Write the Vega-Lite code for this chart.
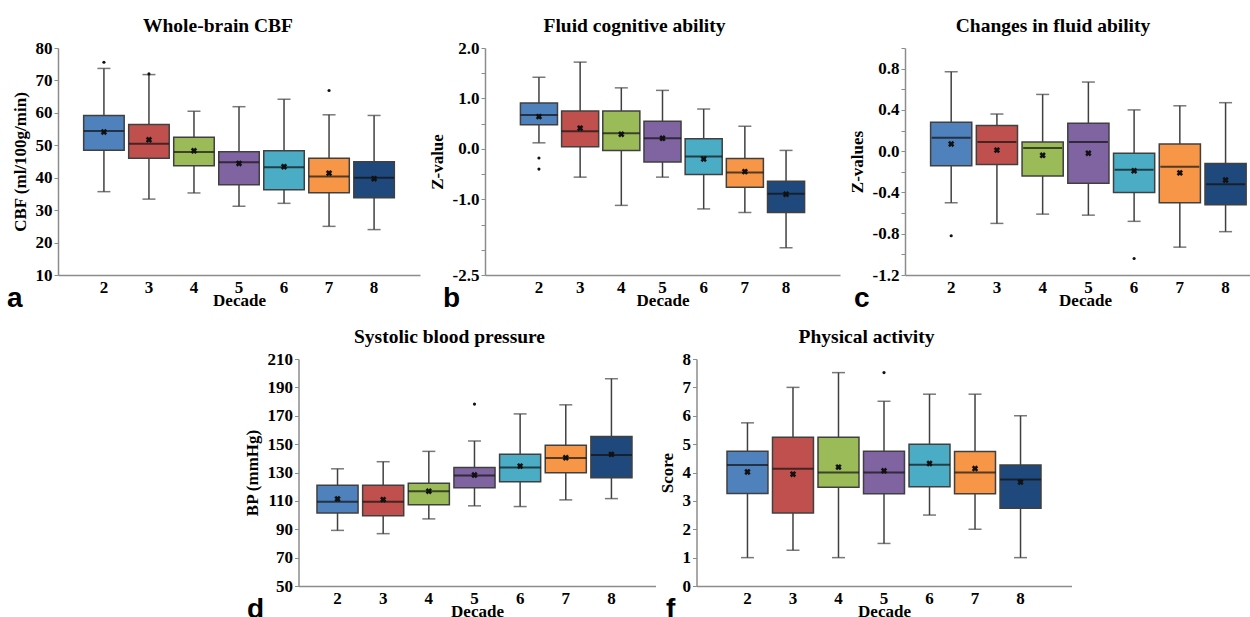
{
  "$schema": "https://vega.github.io/schema/vega-lite/v6.json",
  "padding": {"left": 7, "top": 15, "right": 0, "bottom": 0},
  "background": "white",
  "datasets": {
    "a": [
      {"decade": 2, "min": 35.7, "q1": 48.5, "median": 54.4, "q3": 59.2, "max": 73.7, "mean": 54.1},
      {"decade": 3, "min": 33.4, "q1": 46.0, "median": 50.5, "q3": 56.4, "max": 71.8, "mean": 51.7},
      {"decade": 4, "min": 35.3, "q1": 43.7, "median": 47.9, "q3": 52.5, "max": 60.5, "mean": 48.3},
      {"decade": 5, "min": 31.2, "q1": 37.8, "median": 44.8, "q3": 48.0, "max": 61.9, "mean": 44.4},
      {"decade": 6, "min": 32.1, "q1": 36.3, "median": 43.2, "q3": 48.3, "max": 64.2, "mean": 43.4},
      {"decade": 7, "min": 25.0, "q1": 35.4, "median": 40.4, "q3": 46.0, "max": 59.4, "mean": 41.4},
      {"decade": 8, "min": 24.0, "q1": 33.8, "median": 40.0, "q3": 44.9, "max": 59.2, "mean": 39.7}
    ],
    "a_out": [{"decade": 2, "value": 75.6}, {"decade": 3, "value": 72.0}, {"decade": 7, "value": 66.9}],
    "b": [
      {"decade": 2, "min": 0.12, "q1": 0.48, "median": 0.67, "q3": 0.91, "max": 1.42, "mean": 0.64},
      {"decade": 3, "min": -0.56, "q1": 0.04, "median": 0.35, "q3": 0.75, "max": 1.72, "mean": 0.41},
      {"decade": 4, "min": -1.12, "q1": -0.03, "median": 0.31, "q3": 0.75, "max": 1.21, "mean": 0.29},
      {"decade": 5, "min": -0.56, "q1": -0.26, "median": 0.21, "q3": 0.55, "max": 1.16, "mean": 0.21},
      {"decade": 6, "min": -1.19, "q1": -0.51, "median": -0.15, "q3": 0.20, "max": 0.79, "mean": -0.20},
      {"decade": 7, "min": -1.26, "q1": -0.76, "median": -0.47, "q3": -0.19, "max": 0.45, "mean": -0.45},
      {"decade": 8, "min": -1.96, "q1": -1.26, "median": -0.89, "q3": -0.64, "max": -0.03, "mean": -0.90}
    ],
    "b_out": [{"decade": 2, "value": -0.18}, {"decade": 2, "value": -0.40}],
    "c": [
      {"decade": 2, "min": -0.50, "q1": -0.14, "median": 0.13, "q3": 0.28, "max": 0.77, "mean": 0.07},
      {"decade": 3, "min": -0.70, "q1": -0.13, "median": 0.09, "q3": 0.25, "max": 0.36, "mean": 0.01},
      {"decade": 4, "min": -0.61, "q1": -0.24, "median": 0.03, "q3": 0.09, "max": 0.55, "mean": -0.04},
      {"decade": 5, "min": -0.62, "q1": -0.31, "median": 0.09, "q3": 0.27, "max": 0.67, "mean": -0.02},
      {"decade": 6, "min": -0.68, "q1": -0.40, "median": -0.18, "q3": -0.02, "max": 0.40, "mean": -0.19},
      {"decade": 7, "min": -0.93, "q1": -0.50, "median": -0.15, "q3": 0.07, "max": 0.44, "mean": -0.21},
      {"decade": 8, "min": -0.78, "q1": -0.52, "median": -0.32, "q3": -0.12, "max": 0.47, "mean": -0.28}
    ],
    "c_out": [{"decade": 2, "value": -0.82}, {"decade": 6, "value": -1.04}],
    "d": [
      {"decade": 2, "min": 89.2, "q1": 101.5, "median": 109.3, "q3": 121.1, "max": 132.6, "mean": 111.4},
      {"decade": 3, "min": 86.9, "q1": 99.6, "median": 109.3, "q3": 121.1, "max": 137.6, "mean": 110.9},
      {"decade": 4, "min": 97.3, "q1": 107.2, "median": 116.8, "q3": 122.5, "max": 144.9, "mean": 116.8},
      {"decade": 5, "min": 106.5, "q1": 119.2, "median": 127.9, "q3": 133.6, "max": 152.2, "mean": 128.2},
      {"decade": 6, "min": 106.0, "q1": 123.4, "median": 133.6, "q3": 142.8, "max": 171.3, "mean": 134.5},
      {"decade": 7, "min": 110.7, "q1": 129.8, "median": 140.2, "q3": 149.2, "max": 177.7, "mean": 140.4},
      {"decade": 8, "min": 111.6, "q1": 126.3, "median": 142.3, "q3": 155.3, "max": 196.1, "mean": 142.8}
    ],
    "d_out": [{"decade": 5, "value": 178.2}],
    "f": [
      {"decade": 2, "min": 1.0, "q1": 3.26, "median": 4.26, "q3": 4.75, "max": 5.75, "mean": 4.02},
      {"decade": 3, "min": 1.26, "q1": 2.57, "median": 4.13, "q3": 5.24, "max": 7.0, "mean": 3.94},
      {"decade": 4, "min": 1.0, "q1": 3.48, "median": 4.0, "q3": 5.24, "max": 7.52, "mean": 4.19},
      {"decade": 5, "min": 1.5, "q1": 3.25, "median": 4.0, "q3": 4.75, "max": 6.51, "mean": 4.06},
      {"decade": 6, "min": 2.5, "q1": 3.5, "median": 4.27, "q3": 5.0, "max": 6.76, "mean": 4.32},
      {"decade": 7, "min": 2.0, "q1": 3.25, "median": 4.0, "q3": 4.74, "max": 6.76, "mean": 4.14},
      {"decade": 8, "min": 1.0, "q1": 2.74, "median": 3.75, "q3": 4.26, "max": 6.0, "mean": 3.66}
    ],
    "f_out": [{"decade": 5, "value": 7.52}]
  },
  "vconcat": [
    {
      "hconcat": [
        {
          "title": {"text": "a", "orient": "bottom", "anchor": "start", "font": "Liberation Sans", "fontSize": 28, "fontWeight": "bold", "offset": -23, "dx": -4},
          "hconcat": [
            {
              "title": {"text": "Whole-brain CBF", "offset": 3, "dx": -21},
              "width": 362, "height": 227,
              "encoding": {"x": {"field": "decade", "type": "ordinal", "title": "Decade", "scale": {"paddingInner": 0.1, "paddingOuter": 0.57}}},
              "layer": [
                {"data": {"name": "a"}, "mark": {"type": "rule", "color": "#404040", "strokeWidth": 1.5},
                 "encoding": {"y": {"field": "min", "type": "quantitative", "title": "CBF (ml/100g/min)", "scale": {"domain": [10, 80], "nice": false, "zero": false}, "axis": {"values": [10, 20, 30, 40, 50, 60, 70, 80], "labelOverlap": false}}, "y2": {"field": "max"}}},
                {"data": {"name": "a"}, "mark": {"type": "tick", "color": "#404040", "size": 13, "thickness": 1.5}, "encoding": {"y": {"field": "min", "type": "quantitative", "title": "CBF (ml/100g/min)", "axis": {"values": [10, 20, 30, 40, 50, 60, 70, 80], "labelOverlap": false}}}},
                {"data": {"name": "a"}, "mark": {"type": "tick", "color": "#404040", "size": 13, "thickness": 1.5}, "encoding": {"y": {"field": "max", "type": "quantitative", "title": "CBF (ml/100g/min)", "axis": {"values": [10, 20, 30, 40, 50, 60, 70, 80], "labelOverlap": false}}}},
                {"data": {"name": "a"}, "mark": {"type": "bar", "stroke": "#404040", "strokeWidth": 1.5, "opacity": 1},
                 "encoding": {"y": {"field": "q1", "type": "quantitative", "title": "CBF (ml/100g/min)", "axis": {"values": [10, 20, 30, 40, 50, 60, 70, 80], "labelOverlap": false}}, "y2": {"field": "q3"},
                   "color": {"field": "decade", "type": "nominal", "scale": {"domain": [2, 3, 4, 5, 6, 7, 8], "range": ["#4F81BD", "#C0504D", "#9BBB59", "#8064A2", "#4BACC6", "#F79646", "#1F497D"]}, "legend": null}}},
                {"data": {"name": "a"}, "mark": {"type": "tick", "color": "#111111", "size": 40, "thickness": 2}, "encoding": {"y": {"field": "median", "type": "quantitative", "title": "CBF (ml/100g/min)", "axis": {"values": [10, 20, 30, 40, 50, 60, 70, 80], "labelOverlap": false}}}},
                {"data": {"name": "a"}, "mark": {"type": "point", "shape": "cross", "angle": 45, "size": 42, "filled": true, "color": "#111111", "opacity": 1}, "encoding": {"y": {"field": "mean", "type": "quantitative", "title": "CBF (ml/100g/min)", "axis": {"values": [10, 20, 30, 40, 50, 60, 70, 80], "labelOverlap": false}}}},
                {"data": {"name": "a_out"}, "mark": {"type": "circle", "size": 10, "color": "#111111", "opacity": 1}, "encoding": {"y": {"field": "value", "type": "quantitative", "title": "CBF (ml/100g/min)", "axis": {"values": [10, 20, 30, 40, 50, 60, 70, 80], "labelOverlap": false}}}}
              ]
            }
          ]
        },
        {
          "title": {"text": "b", "orient": "bottom", "anchor": "start", "font": "Liberation Sans", "fontSize": 28, "fontWeight": "bold", "offset": -23, "dx": 15},
          "hconcat": [
            {
              "title": {"text": "Fluid cognitive ability", "offset": 3, "dx": -28},
              "width": 355, "height": 227,
              "encoding": {"x": {"field": "decade", "type": "ordinal", "title": "Decade", "scale": {"paddingInner": 0.1, "paddingOuter": 0.86}}},
              "layer": [
                {"data": {"name": "b"}, "mark": {"type": "rule", "color": "#404040", "strokeWidth": 1.5},
                 "encoding": {"y": {"field": "min", "type": "quantitative", "title": "Z-value", "scale": {"domain": [-2.5, 2], "nice": false, "zero": false}, "axis": {"values": [2, 1.5, 1, 0.5, 0, -0.5, -1, -1.5, -2, -2.5], "labelOverlap": false, "labelExpr": "(datum.value == 2 || datum.value == 1 || datum.value == 0 || datum.value == -1 || datum.value == -2.5) ? replace(format(datum.value, '.1f'), '−', '-') : ''"}}, "y2": {"field": "max"}}},
                {"data": {"name": "b"}, "mark": {"type": "tick", "color": "#404040", "size": 13, "thickness": 1.5}, "encoding": {"y": {"field": "min", "type": "quantitative", "title": "Z-value", "axis": {"values": [2, 1.5, 1, 0.5, 0, -0.5, -1, -1.5, -2, -2.5], "labelOverlap": false, "labelExpr": "(datum.value == 2 || datum.value == 1 || datum.value == 0 || datum.value == -1 || datum.value == -2.5) ? replace(format(datum.value, '.1f'), '−', '-') : ''"}}}},
                {"data": {"name": "b"}, "mark": {"type": "tick", "color": "#404040", "size": 13, "thickness": 1.5}, "encoding": {"y": {"field": "max", "type": "quantitative", "title": "Z-value", "axis": {"values": [2, 1.5, 1, 0.5, 0, -0.5, -1, -1.5, -2, -2.5], "labelOverlap": false, "labelExpr": "(datum.value == 2 || datum.value == 1 || datum.value == 0 || datum.value == -1 || datum.value == -2.5) ? replace(format(datum.value, '.1f'), '−', '-') : ''"}}}},
                {"data": {"name": "b"}, "mark": {"type": "bar", "stroke": "#404040", "strokeWidth": 1.5, "opacity": 1},
                 "encoding": {"y": {"field": "q1", "type": "quantitative", "title": "Z-value", "axis": {"values": [2, 1.5, 1, 0.5, 0, -0.5, -1, -1.5, -2, -2.5], "labelOverlap": false, "labelExpr": "(datum.value == 2 || datum.value == 1 || datum.value == 0 || datum.value == -1 || datum.value == -2.5) ? replace(format(datum.value, '.1f'), '−', '-') : ''"}}, "y2": {"field": "q3"},
                   "color": {"field": "decade", "type": "nominal", "scale": {"domain": [2, 3, 4, 5, 6, 7, 8], "range": ["#4F81BD", "#C0504D", "#9BBB59", "#8064A2", "#4BACC6", "#F79646", "#1F497D"]}, "legend": null}}},
                {"data": {"name": "b"}, "mark": {"type": "tick", "color": "#111111", "size": 37, "thickness": 2}, "encoding": {"y": {"field": "median", "type": "quantitative", "title": "Z-value", "axis": {"values": [2, 1.5, 1, 0.5, 0, -0.5, -1, -1.5, -2, -2.5], "labelOverlap": false, "labelExpr": "(datum.value == 2 || datum.value == 1 || datum.value == 0 || datum.value == -1 || datum.value == -2.5) ? replace(format(datum.value, '.1f'), '−', '-') : ''"}}}},
                {"data": {"name": "b"}, "mark": {"type": "point", "shape": "cross", "angle": 45, "size": 42, "filled": true, "color": "#111111", "opacity": 1}, "encoding": {"y": {"field": "mean", "type": "quantitative", "title": "Z-value", "axis": {"values": [2, 1.5, 1, 0.5, 0, -0.5, -1, -1.5, -2, -2.5], "labelOverlap": false, "labelExpr": "(datum.value == 2 || datum.value == 1 || datum.value == 0 || datum.value == -1 || datum.value == -2.5) ? replace(format(datum.value, '.1f'), '−', '-') : ''"}}}},
                {"data": {"name": "b_out"}, "mark": {"type": "circle", "size": 10, "color": "#111111", "opacity": 1}, "encoding": {"y": {"field": "value", "type": "quantitative", "title": "Z-value", "axis": {"values": [2, 1.5, 1, 0.5, 0, -0.5, -1, -1.5, -2, -2.5], "labelOverlap": false, "labelExpr": "(datum.value == 2 || datum.value == 1 || datum.value == 0 || datum.value == -1 || datum.value == -2.5) ? replace(format(datum.value, '.1f'), '−', '-') : ''"}}}}
              ]
            }
          ]
        },
        {
          "title": {"text": "c", "orient": "bottom", "anchor": "start", "font": "Liberation Sans", "fontSize": 28, "fontWeight": "bold", "offset": -23, "dx": 6},
          "hconcat": [
            {
              "title": {"text": "Changes in fluid ability", "offset": 3, "dx": -55.5},
              "width": 407, "height": 227,
              "encoding": {"x": {"field": "decade", "type": "ordinal", "title": "Decade", "axis": {"titleX": 180}, "scale": {"paddingInner": 0.1, "paddingOuter": 1.193, "align": 0.28}}},
              "layer": [
                {"data": {"name": "c"}, "mark": {"type": "rule", "color": "#404040", "strokeWidth": 1.5},
                 "encoding": {"y": {"field": "min", "type": "quantitative", "title": "Z-values", "scale": {"domain": [-1.2, 1.0], "nice": false, "zero": false}, "axis": {"values": [-1.2, -1.0, -0.8, -0.6, -0.4, -0.2, 0, 0.2, 0.4, 0.6, 0.8, 1.0], "labelOverlap": false, "labelExpr": "abs(round(datum.value * 10)) % 4 == 0 ? replace(format(datum.value, '.1f'), '−', '-') : ''"}}, "y2": {"field": "max"}}},
                {"data": {"name": "c"}, "mark": {"type": "tick", "color": "#404040", "size": 13, "thickness": 1.5}, "encoding": {"y": {"field": "min", "type": "quantitative", "title": "Z-values", "axis": {"values": [-1.2, -1.0, -0.8, -0.6, -0.4, -0.2, 0, 0.2, 0.4, 0.6, 0.8, 1.0], "labelOverlap": false, "labelExpr": "abs(round(datum.value * 10)) % 4 == 0 ? replace(format(datum.value, '.1f'), '−', '-') : ''"}}}},
                {"data": {"name": "c"}, "mark": {"type": "tick", "color": "#404040", "size": 13, "thickness": 1.5}, "encoding": {"y": {"field": "max", "type": "quantitative", "title": "Z-values", "axis": {"values": [-1.2, -1.0, -0.8, -0.6, -0.4, -0.2, 0, 0.2, 0.4, 0.6, 0.8, 1.0], "labelOverlap": false, "labelExpr": "abs(round(datum.value * 10)) % 4 == 0 ? replace(format(datum.value, '.1f'), '−', '-') : ''"}}}},
                {"data": {"name": "c"}, "mark": {"type": "bar", "stroke": "#404040", "strokeWidth": 1.5, "opacity": 1},
                 "encoding": {"y": {"field": "q1", "type": "quantitative", "title": "Z-values", "axis": {"values": [-1.2, -1.0, -0.8, -0.6, -0.4, -0.2, 0, 0.2, 0.4, 0.6, 0.8, 1.0], "labelOverlap": false, "labelExpr": "abs(round(datum.value * 10)) % 4 == 0 ? replace(format(datum.value, '.1f'), '−', '-') : ''"}}, "y2": {"field": "q3"},
                   "color": {"field": "decade", "type": "nominal", "scale": {"domain": [2, 3, 4, 5, 6, 7, 8], "range": ["#4F81BD", "#C0504D", "#9BBB59", "#8064A2", "#4BACC6", "#F79646", "#1F497D"]}, "legend": null}}},
                {"data": {"name": "c"}, "mark": {"type": "tick", "color": "#111111", "size": 39, "thickness": 2}, "encoding": {"y": {"field": "median", "type": "quantitative", "title": "Z-values", "axis": {"values": [-1.2, -1.0, -0.8, -0.6, -0.4, -0.2, 0, 0.2, 0.4, 0.6, 0.8, 1.0], "labelOverlap": false, "labelExpr": "abs(round(datum.value * 10)) % 4 == 0 ? replace(format(datum.value, '.1f'), '−', '-') : ''"}}}},
                {"data": {"name": "c"}, "mark": {"type": "point", "shape": "cross", "angle": 45, "size": 42, "filled": true, "color": "#111111", "opacity": 1}, "encoding": {"y": {"field": "mean", "type": "quantitative", "title": "Z-values", "axis": {"values": [-1.2, -1.0, -0.8, -0.6, -0.4, -0.2, 0, 0.2, 0.4, 0.6, 0.8, 1.0], "labelOverlap": false, "labelExpr": "abs(round(datum.value * 10)) % 4 == 0 ? replace(format(datum.value, '.1f'), '−', '-') : ''"}}}},
                {"data": {"name": "c_out"}, "mark": {"type": "circle", "size": 10, "color": "#111111", "opacity": 1}, "encoding": {"y": {"field": "value", "type": "quantitative", "title": "Z-values", "axis": {"values": [-1.2, -1.0, -0.8, -0.6, -0.4, -0.2, 0, 0.2, 0.4, 0.6, 0.8, 1.0], "labelOverlap": false, "labelExpr": "abs(round(datum.value * 10)) % 4 == 0 ? replace(format(datum.value, '.1f'), '−', '-') : ''"}}}}
              ]
            }
          ]
        }
      ],
      "spacing": 8
    },
    {
      "hconcat": [
        {
          "title": {"text": "d", "orient": "bottom", "anchor": "start", "font": "Liberation Sans", "fontSize": 28, "fontWeight": "bold", "offset": -23, "dx": 4},
          "hconcat": [
            {
              "title": {"text": "Systolic blood pressure", "offset": 3, "dx": -27.5},
              "width": 357, "height": 227,
              "encoding": {"x": {"field": "decade", "type": "ordinal", "title": "Decade", "scale": {"paddingInner": 0.1, "paddingOuter": 0.46, "align": 0.44}}},
              "layer": [
                {"data": {"name": "d"}, "mark": {"type": "rule", "color": "#404040", "strokeWidth": 1.5},
                 "encoding": {"y": {"field": "min", "type": "quantitative", "title": "BP (mmHg)", "scale": {"domain": [50, 210], "nice": false, "zero": false}, "axis": {"values": [50, 70, 90, 110, 130, 150, 170, 190, 210], "labelOverlap": false}}, "y2": {"field": "max"}}},
                {"data": {"name": "d"}, "mark": {"type": "tick", "color": "#404040", "size": 13, "thickness": 1.5}, "encoding": {"y": {"field": "min", "type": "quantitative", "title": "BP (mmHg)", "axis": {"values": [50, 70, 90, 110, 130, 150, 170, 190, 210], "labelOverlap": false}}}},
                {"data": {"name": "d"}, "mark": {"type": "tick", "color": "#404040", "size": 13, "thickness": 1.5}, "encoding": {"y": {"field": "max", "type": "quantitative", "title": "BP (mmHg)", "axis": {"values": [50, 70, 90, 110, 130, 150, 170, 190, 210], "labelOverlap": false}}}},
                {"data": {"name": "d"}, "mark": {"type": "bar", "stroke": "#404040", "strokeWidth": 1.5, "opacity": 1},
                 "encoding": {"y": {"field": "q1", "type": "quantitative", "title": "BP (mmHg)", "axis": {"values": [50, 70, 90, 110, 130, 150, 170, 190, 210], "labelOverlap": false}}, "y2": {"field": "q3"},
                   "color": {"field": "decade", "type": "nominal", "scale": {"domain": [2, 3, 4, 5, 6, 7, 8], "range": ["#4F81BD", "#C0504D", "#9BBB59", "#8064A2", "#4BACC6", "#F79646", "#1F497D"]}, "legend": null}}},
                {"data": {"name": "d"}, "mark": {"type": "tick", "color": "#111111", "size": 41, "thickness": 2}, "encoding": {"y": {"field": "median", "type": "quantitative", "title": "BP (mmHg)", "axis": {"values": [50, 70, 90, 110, 130, 150, 170, 190, 210], "labelOverlap": false}}}},
                {"data": {"name": "d"}, "mark": {"type": "point", "shape": "cross", "angle": 45, "size": 42, "filled": true, "color": "#111111", "opacity": 1}, "encoding": {"y": {"field": "mean", "type": "quantitative", "title": "BP (mmHg)", "axis": {"values": [50, 70, 90, 110, 130, 150, 170, 190, 210], "labelOverlap": false}}}},
                {"data": {"name": "d_out"}, "mark": {"type": "circle", "size": 10, "color": "#111111", "opacity": 1}, "encoding": {"y": {"field": "value", "type": "quantitative", "title": "BP (mmHg)", "axis": {"values": [50, 70, 90, 110, 130, 150, 170, 190, 210], "labelOverlap": false}}}}
              ]
            }
          ]
        },
        {
          "title": {"text": "f", "orient": "bottom", "anchor": "start", "font": "Liberation Sans", "fontSize": 28, "fontWeight": "bold", "offset": -23, "dx": 8},
          "hconcat": [
            {
              "title": {"text": "Physical activity", "offset": 3, "dx": -17.5},
              "width": 375, "height": 227,
              "encoding": {"x": {"field": "decade", "type": "ordinal", "title": "Decade", "scale": {"paddingInner": 0.1, "paddingOuter": 0.67}}},
              "layer": [
                {"data": {"name": "f"}, "mark": {"type": "rule", "color": "#404040", "strokeWidth": 1.5},
                 "encoding": {"y": {"field": "min", "type": "quantitative", "title": "Score", "scale": {"domain": [0, 8], "nice": false, "zero": false}, "axis": {"values": [0, 1, 2, 3, 4, 5, 6, 7, 8], "labelOverlap": false}}, "y2": {"field": "max"}}},
                {"data": {"name": "f"}, "mark": {"type": "tick", "color": "#404040", "size": 13, "thickness": 1.5}, "encoding": {"y": {"field": "min", "type": "quantitative", "title": "Score", "axis": {"values": [0, 1, 2, 3, 4, 5, 6, 7, 8], "labelOverlap": false}}}},
                {"data": {"name": "f"}, "mark": {"type": "tick", "color": "#404040", "size": 13, "thickness": 1.5}, "encoding": {"y": {"field": "max", "type": "quantitative", "title": "Score", "axis": {"values": [0, 1, 2, 3, 4, 5, 6, 7, 8], "labelOverlap": false}}}},
                {"data": {"name": "f"}, "mark": {"type": "bar", "stroke": "#404040", "strokeWidth": 1.5, "opacity": 1},
                 "encoding": {"y": {"field": "q1", "type": "quantitative", "title": "Score", "axis": {"values": [0, 1, 2, 3, 4, 5, 6, 7, 8], "labelOverlap": false}}, "y2": {"field": "q3"},
                   "color": {"field": "decade", "type": "nominal", "scale": {"domain": [2, 3, 4, 5, 6, 7, 8], "range": ["#4F81BD", "#C0504D", "#9BBB59", "#8064A2", "#4BACC6", "#F79646", "#1F497D"]}, "legend": null}}},
                {"data": {"name": "f"}, "mark": {"type": "tick", "color": "#111111", "size": 41, "thickness": 2}, "encoding": {"y": {"field": "median", "type": "quantitative", "title": "Score", "axis": {"values": [0, 1, 2, 3, 4, 5, 6, 7, 8], "labelOverlap": false}}}},
                {"data": {"name": "f"}, "mark": {"type": "point", "shape": "cross", "angle": 45, "size": 42, "filled": true, "color": "#111111", "opacity": 1}, "encoding": {"y": {"field": "mean", "type": "quantitative", "title": "Score", "axis": {"values": [0, 1, 2, 3, 4, 5, 6, 7, 8], "labelOverlap": false}}}},
                {"data": {"name": "f_out"}, "mark": {"type": "circle", "size": 10, "color": "#111111", "opacity": 1}, "encoding": {"y": {"field": "value", "type": "quantitative", "title": "Score", "axis": {"values": [0, 1, 2, 3, 4, 5, 6, 7, 8], "labelOverlap": false}}}}
              ]
            }
          ]
        }
      ],
      "spacing": 2
    }
  ],
  "center": true,
  "spacing": 13,
  "config": {
    "view": {"stroke": null},
    "font": "Liberation Serif",
    "style": {
      "guide-label": {"font": "Liberation Serif", "fontWeight": "bold", "fontSize": 17, "fill": "#000000"},
      "guide-title": {"font": "Liberation Serif", "fontWeight": "bold", "fontSize": 17, "fill": "#000000"}
    },
    "title": {"font": "Liberation Serif", "fontSize": 19.5, "fontWeight": "bold", "color": "#000000"},
    "axis": {"labelColor": "#000000", "titleColor": "#000000", "domainColor": "#8c8c8c", "domainWidth": 1.5, "tickColor": "#8c8c8c", "tickWidth": 1, "grid": false},
    "axisX": {"ticks": false, "labelAngle": 0, "labelPadding": 4, "titlePadding": -3, "labelFont": "Liberation Serif", "labelFontSize": 17, "labelFontWeight": "bold", "titleFont": "Liberation Serif", "titleFontSize": 17, "titleFontWeight": "bold", "labelOverlap": false},
    "axisY": {"tickSize": 4, "labelPadding": 2, "titlePadding": 6, "labelFlush": false, "labelFont": "Liberation Serif", "labelFontSize": 17, "labelFontWeight": "bold", "titleFont": "Liberation Serif", "titleFontSize": 17, "titleFontWeight": "bold", "labelOverlap": false}
  }
}
